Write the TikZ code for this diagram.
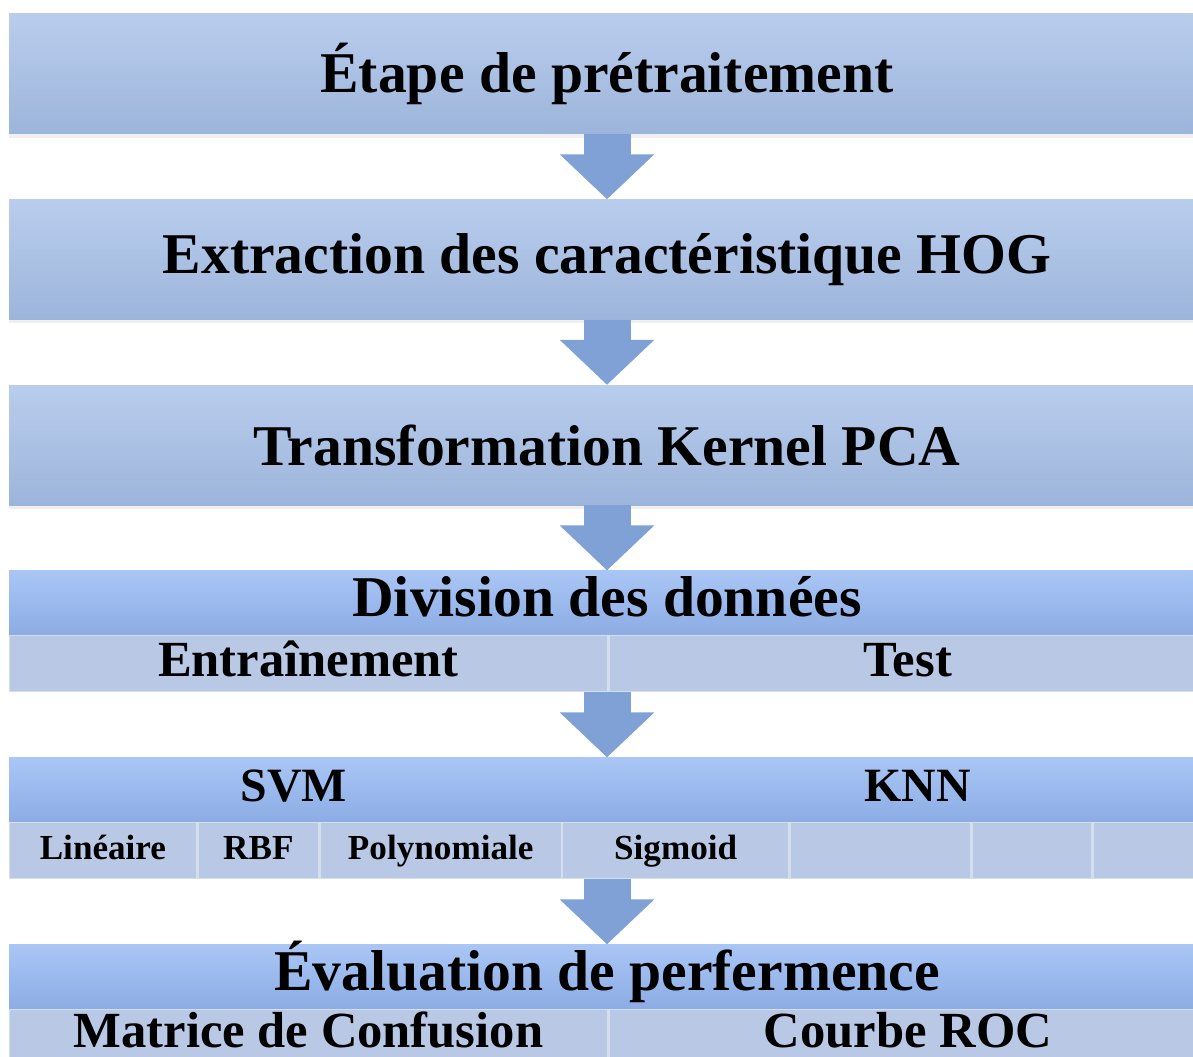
\documentclass[tikz,border=0pt]{standalone}
\usepackage{fontspec}
\setmainfont{Liberation Serif}
\usepackage{xcolor}
\usepackage{tikz}
\usetikzlibrary{positioning}
\usetikzlibrary{arrows.meta,shadows}

\definecolor{stagetop}{HTML}{B9CDED}
\definecolor{stagebot}{HTML}{9DB5DB}
\definecolor{headtop}{HTML}{A9C6F5}
\definecolor{headbot}{HTML}{8CACE4}
\definecolor{cellfill}{HTML}{B9C8E4}
\definecolor{celledge}{HTML}{D5DEEE}
\definecolor{arrowblue}{HTML}{7FA1D5}

\begin{document}
\begin{tikzpicture}[node distance=1.625cm,
  stage/.style={minimum width=29.9cm, minimum height=3cm, top color=stagetop, bottom color=stagebot, drop shadow={opacity=0.12, shadow xshift=0pt, shadow yshift=-2.5pt}, font=\fontsize{41}{44}\selectfont\bfseries},
  head/.style={minimum width=29.9cm, minimum height=1.6cm, inner sep=2pt, text height=29pt, text depth=9pt, top color=headtop, bottom color=headbot, font=\fontsize{41}{44}\selectfont\bfseries},
  cell/.style={anchor=north west, minimum height=1.4cm, inner sep=2pt, fill=cellfill, draw=celledge, line width=1pt, text height=25pt, text depth=7pt, font=\fontsize{36}{40}\selectfont\bfseries},
  kernel/.style={cell, text height=18pt, text depth=5pt, font=\fontsize{25}{28}\selectfont\bfseries},
  model/.style={text height=24pt, text depth=7pt, font=\fontsize{34}{38}\selectfont\bfseries},
  flow/.style={draw=arrowblue, line width=1.175cm, -{Triangle[width=2.3cm, length=1.125cm]}}]

\path[use as bounding box] (0,0) rectangle (29.825,-26.425);
\clip (0,0) rectangle (29.825,-26.425);

\node (pre) [stage] at (15.175,-1.85) {Étape de prétraitement};
\node (hog) [stage, below=of pre] {Extraction des caractéristique HOG};
\node (kpca) [stage, below=of hog] {Transformation Kernel PCA};

\node (divhead) [head, below=of kpca] {Division des données};
\node (train) [cell, minimum width=14.95cm] at (divhead.south west) {Entraînement};
\node (test) [cell, minimum width=14.95cm] at (train.north east) {Test};
\coordinate (divbot) at (divhead.south |- train.south);

\node (clfhead) [head, below=of divbot] {};
\node (svm) [model] at ([xshift=7.125cm]clfhead.west) {SVM};
\node (knn) [model] at ([xshift=22.725cm]clfhead.west) {KNN};
\node (lin) [kernel, minimum width=4.675cm] at (clfhead.south west) {Linéaire};
\node (rbf) [kernel, minimum width=3.025cm] at (lin.north east) {RBF};
\node (poly) [kernel, minimum width=6.025cm] at (rbf.north east) {Polynomiale};
\node (sig) [kernel, minimum width=5.65cm] at (poly.north east) {Sigmoid};
\node (knna) [kernel, minimum width=4.525cm] at (sig.north east) {};
\node (knnb) [kernel, minimum width=2.975cm] at (knna.north east) {};
\node (knnc) [kernel, minimum width=3.025cm] at (knnb.north east) {};
\coordinate (clfbot) at (clfhead.south |- sig.south);

\node (evalhead) [head, below=of clfbot] {Évaluation de perfermence};
\node (conf) [cell, minimum width=14.95cm, minimum height=1.25cm] at (evalhead.south west) {Matrice de Confusion};
\node (roc) [cell, minimum width=14.95cm, minimum height=1.25cm] at (conf.north east) {Courbe ROC};

\draw[flow] (pre) -- (hog);
\draw[flow] (hog) -- (kpca);
\draw[flow] (kpca) -- (divhead);
\draw[flow] (divbot) -- (clfhead);
\draw[flow] (clfbot) -- (evalhead);

\end{tikzpicture}
\end{document}
